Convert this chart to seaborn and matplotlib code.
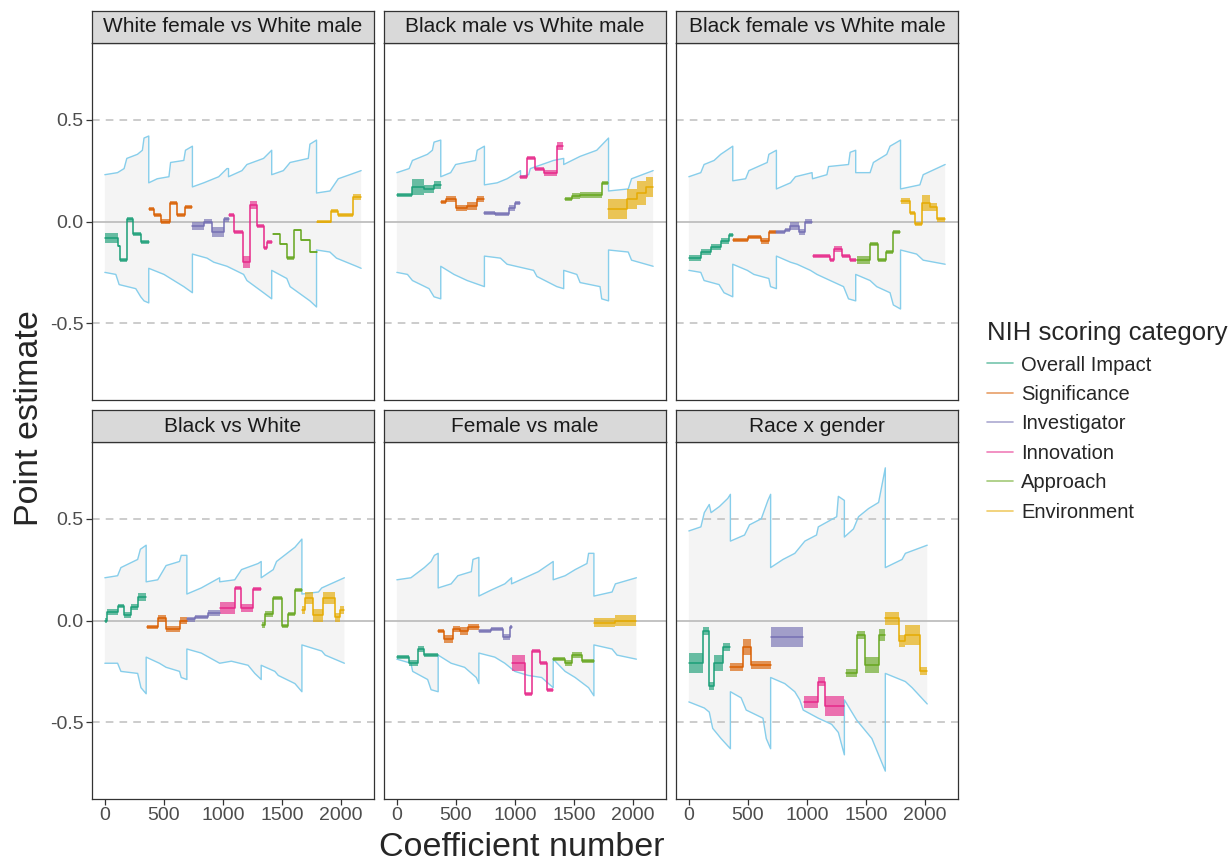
import numpy as np
import pandas as pd
import seaborn as sns
import matplotlib.pyplot as plt
from matplotlib.lines import Line2D

panel_titles = ["White female vs White male", "Black male vs White male", "Black female vs White male",
                "Black vs White", "Female vs male", "Race x gender"]
categories = ["Overall Impact", "Significance", "Investigator", "Innovation", "Approach", "Environment"]
cat_colors = ["#1B9E77", "#D95F02", "#7570B3", "#E7298A", "#66A61E", "#E6AB02"]

# ---- White female vs White male ----
wfwm_upper = [(0, .23), (107, .24), (163, .26), (186, .31), (276, .33), (318, .35), (332, .41), (372, .42), (372, .19),
              (444, .21), (543, .22), (557, .29), (669, .30), (683, .35), (742, .37), (742, .17), (838, .19), (965, .22),
              (1035, .26), (1048, .26), (1048, .22), (1162, .25), (1204, .28), (1345, .31), (1414, .35), (1414, .23),
              (1513, .25), (1570, .29), (1724, .31), (1738, .38), (1794, .40), (1794, .14), (1908, .15), (1978, .21),
              (2076, .23), (2172, .25)]
wfwm_lower = [(0, -.25), (93, -.26), (121, -.31), (262, -.33), (304, -.37), (332, -.39), (372, -.40), (372, -.23),
              (501, -.26), (669, -.32), (742, -.35), (742, -.16), (866, -.18), (923, -.20), (1035, -.22), (1176, -.26),
              (1204, -.29), (1345, -.35), (1414, -.38), (1414, -.24), (1542, -.28), (1570, -.32), (1738, -.39),
              (1794, -.42), (1794, -.14), (1907, -.15), (1963, -.18), (2132, -.22), (2172, -.23)]
wfwm_x = [[0, 112, 129, 186, 242, 304, 372], [372, 416, 473, 551, 608, 675, 742], [742, 838, 909, 1007, 1048],
          [1048, 1097, 1170, 1226, 1288, 1345, 1373, 1414], [1423, 1485, 1547, 1603, 1660, 1738, 1794],
          [1794, 1913, 1978, 2104, 2172]]
wfwm_y = [[-.08, -.12, -.19, .01, -.06, -.10], [.06, .03, .0, .09, .03, .07], [-.02, .0, -.05, .01],
          [.03, -.05, -.20, .08, -.02, -.13, -.10], [-.06, -.11, -.18, -.04, -.09, -.15], [.0, .05, .03, .12]]
wfwm_s = [[.025, .005, .01, .01, .01, .01], [.01, .01, .01, .01, .01, .01], [.02, .01, .025, .01],
          [.01, .01, .03, .02, .01, .01, .01], [.005, .005, .01, .005, .005, .005], [.005, .01, .01, .015]]

# ---- Black male vs White male ----
bmwm_upper = [(0, .24), (104, .26), (132, .30), (259, .33), (301, .35), (315, .39), (372, .40), (372, .22), (456, .24),
              (498, .28), (667, .30), (681, .35), (742, .37), (742, .18), (850, .19), (934, .21), (1048, .25),
              (1048, .22), (1117, .23), (1131, .26), (1328, .30), (1414, .31), (1414, .28), (1553, .32), (1694, .35),
              (1794, .41), (1794, .15), (1961, .16), (1989, .21), (2172, .25)]
bmwm_lower = [(0, -.25), (90, -.26), (132, -.29), (273, -.33), (315, -.37), (372, -.38), (372, -.22), (484, -.26),
              (596, -.29), (742, -.32), (742, -.17), (878, -.18), (934, -.21), (1159, -.24), (1187, -.27),
              (1356, -.32), (1414, -.33), (1414, -.24), (1525, -.26), (1553, -.30), (1722, -.32), (1736, -.38),
              (1794, -.39), (1794, -.14), (1961, -.15), (1989, -.19), (2172, -.22)]
bmwm_x = [[0, 132, 231, 315, 372], [372, 414, 498, 596, 681, 742], [742, 835, 948, 1004, 1046],
          [1046, 1103, 1173, 1243, 1356, 1412], [1421, 1482, 1553, 1736, 1792], [1792, 1947, 2031, 2115, 2172]]
bmwm_y = [[.13, .17, .16, .18], [.095, .11, .065, .075, .11], [.04, .035, .065, .09], [.22, .31, .26, .24, .37],
          [.11, .125, .13, .19], [.06, .11, .14, .17]]
bmwm_s = [[.01, .04, .02, .02], [.01, .015, .015, .02, .015], [.01, .01, .015, .01], [.01, .01, .01, .015, .02],
          [.01, .015, .015, .01], [.05, .05, .06, .05]]

# ---- Black female vs White male ----
bfwm_upper = [(0, .22), (101, .24), (129, .28), (214, .30), (270, .33), (372, .37), (372, .20), (481, .21), (509, .25),
              (664, .29), (678, .33), (742, .35), (742, .16), (861, .19), (903, .22), (1044, .24), (1048, .21),
              (1170, .23), (1184, .27), (1353, .28), (1367, .34), (1414, .35), (1414, .24), (1536, .24), (1564, .29),
              (1677, .33), (1705, .37), (1794, .40), (1794, .16), (1958, .18), (1986, .23), (2172, .28)]
bfwm_lower = [(0, -.24), (101, -.25), (129, -.29), (256, -.31), (298, -.35), (372, -.37), (372, -.21), (495, -.24),
              (551, -.26), (678, -.28), (692, -.32), (742, -.33), (742, -.17), (861, -.20), (917, -.21), (1030, -.24),
              (1086, -.26), (1198, -.29), (1311, -.32), (1353, -.38), (1414, -.39), (1414, -.26), (1536, -.29),
              (1592, -.32), (1705, -.35), (1733, -.41), (1794, -.43), (1794, -.14), (1930, -.16), (1986, -.19),
              (2172, -.21)]
bfwm_x = [[0, 101, 186, 270, 340, 372], [372, 501, 608, 681, 742], [742, 819, 861, 931, 987, 1044],
          [1052, 1198, 1226, 1297, 1367, 1418], [1429, 1536, 1606, 1671, 1727, 1789],
          [1795, 1873, 1916, 1972, 2042, 2099, 2169]]
bfwm_y = [[-.18, -.15, -.125, -.095, -.065], [-.09, -.075, -.095, -.05], [-.05, -.04, -.02, -.05, 0.0],
          [-.17, -.19, -.135, -.17, -.19], [-.19, -.11, -.19, -.15, -.05], [.10, .04, -.01, .09, .07, .01]]
bfwm_s = [[.015, .015, .015, .015, .01], [.01, .01, .015, .01], [.01, .01, .02, .015, .01],
          [.01, .01, .015, .01, .01], [.02, .01, .01, .01, .01], [.015, .01, .01, .04, .02, .01]]

# ---- Black vs White ----
bw_upper = [(0, .21), (108, .22), (136, .26), (278, .30), (301, .35), (350, .37), (350, .19), (448, .20), (519, .27),
            (633, .29), (647, .32), (695, .32), (695, .13), (817, .16), (973, .21), (973, .19), (1101, .20),
            (1158, .25), (1299, .28), (1325, .29), (1325, .21), (1427, .25), (1455, .29), (1611, .36), (1670, .40),
            (1670, .13), (1810, .14), (1838, .16), (2030, .21)]
bw_lower = [(0, -.21), (108, -.21), (136, -.25), (278, -.26), (306, -.33), (350, -.36), (350, -.18), (462, -.21),
            (519, -.23), (633, -.25), (647, -.28), (695, -.29), (695, -.14), (817, -.16), (973, -.21), (1072, -.20),
            (1214, -.22), (1271, -.26), (1325, -.29), (1325, -.22), (1441, -.25), (1470, -.27), (1611, -.31),
            (1670, -.35), (1670, -.12), (1838, -.15), (1867, -.17), (2030, -.21)]
bw_x = [[0, 17, 108, 165, 221, 278, 350], [357, 448, 519, 633, 695], [695, 760, 874, 973],
        [973, 1101, 1152, 1257, 1325], [1336, 1356, 1427, 1498, 1555, 1611, 1670],
        [1670, 1699, 1767, 1853, 1952, 1994, 2030]]
bw_y = [[.0, .04, .07, .025, .065, .115], [-.03, .01, -.04, .0], [.005, .015, .035], [.06, .16, .06, .155],
        [-.02, .03, .11, -.025, .03, .15], [.05, .11, .025, .11, .015, .05]]
bw_s = [[.01, .015, .01, .015, .015, .02], [.01, .015, .015, .015], [.01, .01, .015], [.03, .01, .02, .01],
        [.015, .015, .01, .01, .01, .01], [.02, .03, .03, .03, .02, .02]]

# ---- Female vs male ----
fm_upper = [(0, .20), (119, .21), (233, .26), (290, .29), (318, .32), (350, .33), (350, .16), (460, .18), (517, .22),
            (631, .24), (645, .30), (695, .31), (695, .12), (801, .15), (915, .18), (972, .21), (972, .18),
            (1085, .21), (1199, .24), (1325, .29), (1325, .20), (1426, .22), (1511, .25), (1611, .28), (1625, .33),
            (1670, .33), (1670, .12), (1824, .14), (1852, .18), (2030, .21)]
fm_lower = [(0, -.19), (119, -.21), (134, -.25), (261, -.29), (290, -.34), (350, -.35), (350, -.17), (460, -.21),
            (574, -.23), (673, -.28), (695, -.31), (695, -.16), (830, -.18), (915, -.21), (1000, -.25), (1114, -.27),
            (1227, -.28), (1325, -.33), (1325, -.19), (1426, -.25), (1511, -.28), (1625, -.33), (1670, -.37),
            (1670, -.12), (1824, -.14), (1866, -.17), (2030, -.19)]
fm_x = [[0, 105, 176, 227, 350], [350, 403, 474, 531, 602, 695], [695, 801, 900, 957, 975],
        [975, 1085, 1142, 1213, 1270, 1325], [1325, 1426, 1483, 1568, 1670], [1670, 1852, 2030]]
fm_y = [[-.18, -.21, -.14, -.17], [-.05, -.09, -.04, -.05, -.03], [-.05, -.04, -.08, -.03],
        [-.21, -.36, -.15, -.21, -.34], [-.19, -.21, -.17, -.20], [-.01, .0]]
fm_s = [[.01, .015, .015, .01], [.01, .02, .015, .02, .015], [.01, .01, .015, .01], [.04, .01, .01, .01, .01],
        [.01, .015, .015, .01], [.02, .025]]

# ---- Race x gender ----
rxg_upper = [(0, .44), (102, .46), (131, .53), (173, .57), (188, .53), (259, .56), (330, .60), (352, .62), (352, .39),
             (472, .42), (514, .47), (614, .50), (670, .59), (693, .62), (693, .26), (798, .30), (898, .33),
             (983, .39), (1082, .42), (1097, .46), (1253, .51), (1267, .61), (1318, .59), (1318, .41), (1395, .45),
             (1438, .51), (1523, .55), (1608, .58), (1665, .75), (1665, .26), (1807, .30), (1835, .33), (2020, .37)]
rxg_lower = [(0, -.40), (131, -.43), (173, -.45), (202, -.53), (273, -.58), (352, -.63), (352, -.35), (443, -.38),
             (486, -.44), (628, -.48), (656, -.58), (693, -.63), (693, -.28), (813, -.31), (898, -.35), (940, -.39),
             (969, -.44), (1097, -.48), (1210, -.51), (1267, -.55), (1318, -.66), (1318, -.39), (1423, -.49),
             (1551, -.58), (1608, -.66), (1665, -.74), (1665, -.26), (1835, -.30), (1892, -.33), (2020, -.41)]
rxg_x = [[0, 116, 173, 216, 287, 352], [352, 457, 528, 693], [699, 969], [977, 1097, 1153, 1318],
         [1330, 1423, 1494, 1608, 1665], [1665, 1778, 1835, 1963, 2020]]
rxg_y = [[-.21, -.05, -.32, -.21, -.13], [-.23, -.13, -.22], [-.08], [-.40, -.30, -.42],
         [-.26, -.07, -.22, -.07], [.01, -.10, -.07, -.25]]
rxg_s = [[.05, .02, .02, .04, .02], [.02, .04, .02], [.05], [.03, .02, .05], [.02, .02, .04, .03],
         [.03, .03, .05, .02]]

panels = [
    (wfwm_upper, wfwm_lower, wfwm_x, wfwm_y, wfwm_s),
    (bmwm_upper, bmwm_lower, bmwm_x, bmwm_y, bmwm_s),
    (bfwm_upper, bfwm_lower, bfwm_x, bfwm_y, bfwm_s),
    (bw_upper, bw_lower, bw_x, bw_y, bw_s),
    (fm_upper, fm_lower, fm_x, fm_y, fm_s),
    (rxg_upper, rxg_lower, rxg_x, rxg_y, rxg_s),
]


def steps_frame(xs, ys):
    rows = []
    for cat, bx, lv in zip(categories, xs, ys):
        for x, y in zip(bx[:-1], lv):
            rows.append((cat, x, y))
        rows.append((cat, bx[-1], lv[-1]))
    return pd.DataFrame(rows, columns=["cat", "x", "y"])


sns.set_theme(style="white")
plt.rcParams["font.family"] = ["Liberation Sans", "DejaVu Sans"]

W, H = 1231, 864
fig = plt.figure(figsize=(W / 100, H / 100), dpi=100)
col_left = [92, 384, 676]
strip_top = [11, 410]
strip_h, panel_h, panel_w = 32, 357, 282
edge = "#333333"

for i, (upper, lower, xs, ys, ss) in enumerate(panels):
    r, c = divmod(i, 3)
    top = strip_top[r] + strip_h
    ax = fig.add_axes([col_left[c] / W, 1 - (top + panel_h) / H, panel_w / W, panel_h / H])
    sax = fig.add_axes([col_left[c] / W, 1 - top / H, panel_w / W, strip_h / H])
    sax.set_facecolor("#D9D9D9")
    sax.set_xticks([])
    sax.set_yticks([])
    for s in sax.spines.values():
        s.set_color(edge)
        s.set_linewidth(0.9)
    sax.text(0.5, 0.5, panel_titles[i], ha="center", va="center", fontsize=15, color="#1A1A1A",
             transform=sax.transAxes)

    up = pd.DataFrame(upper, columns=["x", "y"])
    lo = pd.DataFrame(lower, columns=["x", "y"])
    ax.fill(np.r_[up.x, lo.x[::-1]], np.r_[up.y, lo.y[::-1]], color="#F4F4F4", lw=0, zorder=0)
    ax.axhline(0, color="#BEBEBE", lw=1.3, zorder=1)
    for yv in (-0.5, 0.5):
        ax.axhline(yv, color="#BEBEBE", lw=1.1, ls=(0, (5, 4)), zorder=1)
    sns.lineplot(data=up, x="x", y="y", estimator=None, sort=False, color="#87CEEB", lw=1.0, ax=ax, zorder=2)
    sns.lineplot(data=lo, x="x", y="y", estimator=None, sort=False, color="#87CEEB", lw=1.0, ax=ax, zorder=2)

    # jitter band of each step
    for col, bx, lv, sp in zip(cat_colors, xs, ys, ss):
        lv_e = np.r_[lv, lv[-1]]
        sp_e = np.r_[sp, sp[-1]]
        ax.fill_between(bx, lv_e - sp_e, lv_e + sp_e, step="post", color=col, alpha=0.65, lw=0, zorder=3)

    df = steps_frame(xs, ys)
    sns.lineplot(data=df, x="x", y="y", hue="cat", hue_order=categories, palette=cat_colors,
                 estimator=None, sort=False, drawstyle="steps-post", lw=1.1, legend=False, ax=ax, zorder=4)

    ax.set_xlim(-109, 2281)
    ax.set_ylim(-0.877, 0.877)
    ax.set_xticks([0, 500, 1000, 1500, 2000])
    ax.set_yticks([-0.5, 0, 0.5])
    ax.set_yticklabels(["-0.5", "0.0", "0.5"])
    ax.set_xlabel("")
    ax.set_ylabel("")
    ax.tick_params(axis="both", length=4, width=0.9, color=edge, labelsize=14, labelcolor="#4D4D4D", pad=2,
                   bottom=(r == 1), left=(c == 0), labelbottom=(r == 1), labelleft=(c == 0))
    for s in ax.spines.values():
        s.set_color(edge)
        s.set_linewidth(0.9)

fig.text(30 / W, 1 - 418 / H, "Point estimate", rotation=90, ha="center", va="center", fontsize=24.5)
fig.text(522 / W, 1 - 847 / H, "Coefficient number", ha="center", va="center", fontsize=24.5)

handles = [Line2D([0], [0], color=col, lw=1.2, alpha=0.6) for col in cat_colors]
leg = fig.legend(handles, categories, loc="upper left", bbox_to_anchor=(979 / W, 1 - 313 / H), frameon=False,
                 title="NIH scoring category", fontsize=14.5, title_fontsize=18.5, handlelength=1.3,
                 handletextpad=0.4, labelspacing=0.52, alignment="left", borderaxespad=0)

fig.savefig("out.png", dpi=100)
